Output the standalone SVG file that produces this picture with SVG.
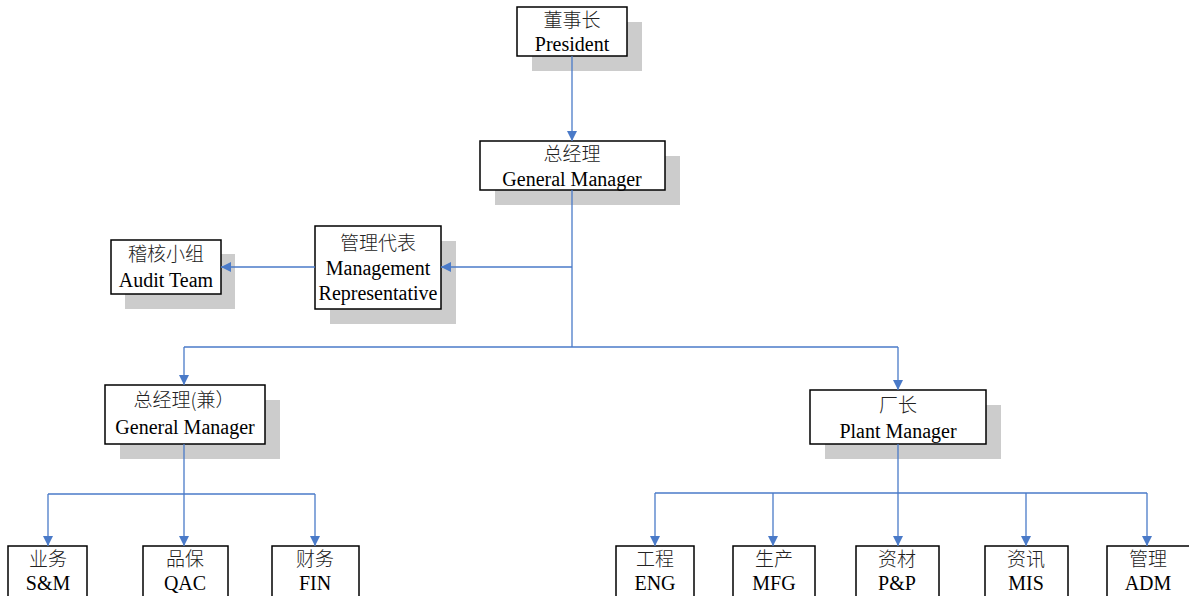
<svg xmlns="http://www.w3.org/2000/svg" width="1189" height="596" viewBox="0 0 1189 596">
<defs>
<style>
.sh{fill:#cccccc;stroke:none}
.bx{fill:#ffffff;stroke:#000000;stroke-width:1.5}
.t{font-family:"Liberation Serif","Noto Sans CJK SC",serif;font-size:20px;fill:#000;text-anchor:middle}
.c{font-family:"Noto Sans CJK SC","Liberation Serif",sans-serif;font-size:19px;font-weight:300;fill:#222;text-anchor:middle}
.ln{fill:none;stroke:#4a7ac8;stroke-width:1.3}
</style>
<marker id="ar" viewBox="0 0 10 10" refX="10" refY="5" markerWidth="10" markerHeight="10" markerUnits="userSpaceOnUse" orient="auto">
<path d="M0,0 L10,5 L0,10 Z" fill="#4a7ac8"/>
</marker>
</defs>
<rect width="1189" height="596" fill="#ffffff"/>
<g id="president">
<rect class="sh" x="532" y="22" width="110" height="49"/>
<rect class="bx" x="517" y="7" width="110" height="49"/>
<text class="c" x="572" y="27">董事长</text>
<text class="t" x="572" y="51">President</text>
</g>
<g id="gm">
<rect class="sh" x="495" y="156" width="185" height="49"/>
<rect class="bx" x="480" y="141" width="185" height="49"/>
<text class="c" x="572" y="161">总经理</text>
<text class="t" x="572" y="186">General Manager</text>
</g>
<g id="mgmt-rep">
<rect class="sh" x="330" y="241" width="126" height="83"/>
<rect class="bx" x="315" y="226" width="126" height="83"/>
<text class="c" x="378" y="250">管理代表</text>
<text class="t" x="378" y="275">Management</text>
<text class="t" x="378" y="300">Representative</text>
</g>
<g id="audit">
<rect class="sh" x="125" y="254" width="110" height="55"/>
<rect class="bx" x="111" y="240" width="110" height="54"/>
<text class="c" x="166" y="261">稽核小组</text>
<text class="t" x="166" y="287">Audit Team</text>
</g>
<g id="gm2">
<rect class="sh" x="120" y="400" width="160" height="59"/>
<rect class="bx" x="105" y="385" width="160" height="59"/>
<text class="c" x="184" y="407">总经理(兼）</text>
<text class="t" x="185" y="434">General Manager</text>
</g>
<g id="plant">
<rect class="sh" x="825" y="405" width="176" height="54"/>
<rect class="bx" x="810" y="390" width="176" height="54"/>
<text class="c" x="898" y="412">厂长</text>
<text class="t" x="898" y="438">Plant Manager</text>
</g>
<g id="sm">
<rect class="bx" x="8" y="546" width="79" height="62"/>
<text class="c" x="48" y="566">业务</text>
<text class="t" x="48" y="590">S&amp;M</text>
</g>
<g id="qac">
<rect class="bx" x="143" y="546" width="85" height="62"/>
<text class="c" x="185" y="566">品保</text>
<text class="t" x="185" y="590">QAC</text>
</g>
<g id="fin">
<rect class="bx" x="272" y="546" width="87" height="62"/>
<text class="c" x="315" y="566">财务</text>
<text class="t" x="315" y="590">FIN</text>
</g>
<g id="eng">
<rect class="bx" x="616" y="546" width="78" height="62"/>
<text class="c" x="655" y="566">工程</text>
<text class="t" x="655" y="590">ENG</text>
</g>
<g id="mfg">
<rect class="bx" x="733" y="546" width="82" height="62"/>
<text class="c" x="774" y="566">生产</text>
<text class="t" x="774" y="590">MFG</text>
</g>
<g id="pp">
<rect class="bx" x="856" y="546" width="83" height="62"/>
<text class="c" x="897" y="566">资材</text>
<text class="t" x="897" y="590">P&amp;P</text>
</g>
<g id="mis">
<rect class="bx" x="985" y="546" width="83" height="62"/>
<text class="c" x="1026" y="566">资讯</text>
<text class="t" x="1026" y="590">MIS</text>
</g>
<g id="adm">
<rect class="bx" x="1107" y="546" width="84" height="62"/>
<text class="c" x="1148" y="566">管理</text>
<text class="t" x="1148" y="590">ADM</text>
</g>
<g id="connectors">
<line class="ln" x1="572" y1="56" x2="572" y2="141" marker-end="url(#ar)"/>
<line class="ln" x1="572" y1="190" x2="572" y2="347"/>
<line class="ln" x1="572" y1="267" x2="441" y2="267" marker-end="url(#ar)"/>
<line class="ln" x1="315" y1="267" x2="221" y2="267" marker-end="url(#ar)"/>
<line class="ln" x1="184" y1="347" x2="898" y2="347"/>
<line class="ln" x1="184" y1="347" x2="184" y2="385" marker-end="url(#ar)"/>
<line class="ln" x1="898" y1="347" x2="898" y2="390" marker-end="url(#ar)"/>
<line class="ln" x1="184" y1="444" x2="184" y2="546" marker-end="url(#ar)"/>
<line class="ln" x1="48" y1="494" x2="315" y2="494"/>
<line class="ln" x1="48" y1="494" x2="48" y2="546" marker-end="url(#ar)"/>
<line class="ln" x1="315" y1="494" x2="315" y2="546" marker-end="url(#ar)"/>
<line class="ln" x1="898" y1="444" x2="898" y2="546" marker-end="url(#ar)"/>
<line class="ln" x1="655" y1="493" x2="1147" y2="493"/>
<line class="ln" x1="655" y1="493" x2="655" y2="546" marker-end="url(#ar)"/>
<line class="ln" x1="773" y1="493" x2="773" y2="546" marker-end="url(#ar)"/>
<line class="ln" x1="1026" y1="493" x2="1026" y2="546" marker-end="url(#ar)"/>
<line class="ln" x1="1147" y1="493" x2="1147" y2="546" marker-end="url(#ar)"/>
</g>
</svg>
